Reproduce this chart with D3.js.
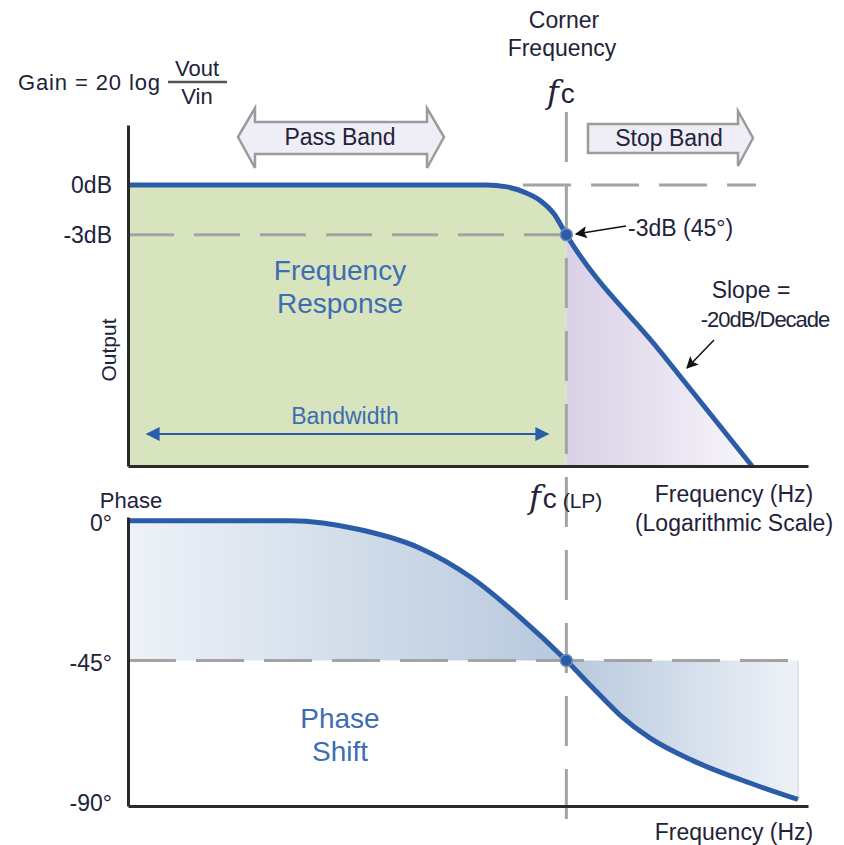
<!DOCTYPE html>
<html>
<head>
<meta charset="utf-8">
<script src="https://cdn.jsdelivr.net/npm/d3@7"></script>
<style>
  body { margin: 0; background: #fff; }
  text { font-family: "Liberation Sans", Arial, sans-serif; }
</style>
</head>
<body>
<svg width="844" height="845"></svg>
<script>
// magnitude response (frequency in Hz, fc = 100)
var gainFreq = [2.3, 50, 60, 70, 80, 90, 100, 224, 494];
var gainDb   = [0, 0, -0.12, -0.45, -0.95, -1.75, -3, -10.0, -16.9];

// phase response
var phaseFreq = [2.3, 9.3, 17, 28, 44, 67, 100, 126, 159, 205, 297, 457, 734];
var phaseDeg  = [0, 0, -2.9, -8.6, -18.2, -31.0, -45, -53.9, -62.6, -69.9, -77.2, -83.6, -89.7];

var cornerFreq = 100;
var gainTicks = [0, -3];
var gainTickLabels = ['0dB', '-3dB'];
var phaseTicks = [0, -45, -90];
var phaseTickLabels = ['0\u00B0', '-45\u00B0', '-90\u00B0'];

var svg = d3.select('svg');
var ink = '#22223a';
var blue = '#2b5ca8';
var textBlue = '#3d6db3';
var dashGray = '#a3a3a3';

// scales
var xScale = d3.scaleLog().domain([2.3, 800]).range([128, 808]);
var gainY = d3.scaleLinear().domain([-16.9, 3.6]).range([466, 125]);
var phaseY = d3.scaleLinear().domain([-91.8, 1.2]).range([806, 517]);

var gainData = gainFreq.map(function(f, i) { return { f: f, v: gainDb[i] }; });
var phaseData = phaseFreq.map(function(f, i) { return { f: f, v: phaseDeg[i] }; });

var xc = xScale(cornerFreq);

var defs = svg.append('defs');

var purple = defs.append('linearGradient').attr('id', 'stopFill')
    .attr('gradientUnits', 'userSpaceOnUse')
    .attr('x1', xc).attr('x2', xScale(494)).attr('y1', 0).attr('y2', 0);
purple.append('stop').attr('offset', 0).attr('stop-color', '#d9d0e6');
purple.append('stop').attr('offset', 1).attr('stop-color', '#f7f5fa');

var phaseGrad = defs.append('linearGradient').attr('id', 'phaseFill')
    .attr('gradientUnits', 'userSpaceOnUse')
    .attr('x1', 128).attr('x2', xScale(734)).attr('y1', 0).attr('y2', 0);
phaseGrad.append('stop').attr('offset', 0).attr('stop-color', '#eef2f8');
phaseGrad.append('stop').attr('offset', (xc - 128) / (xScale(734) - 128)).attr('stop-color', '#b7c8dd');
phaseGrad.append('stop').attr('offset', 1).attr('stop-color', '#eef2f8');

defs.append('clipPath').attr('id', 'passClip')
    .append('rect').attr('x', 128).attr('y', 100).attr('width', xc - 128).attr('height', 400);
defs.append('clipPath').attr('id', 'stopClip')
    .append('rect').attr('x', xc).attr('y', 100).attr('width', 300).attr('height', 400);

defs.append('marker').attr('id', 'blackHead')
    .attr('viewBox', '0 0 10 10').attr('refX', 9).attr('refY', 5)
    .attr('markerWidth', 10).attr('markerHeight', 8).attr('orient', 'auto')
    .append('path').attr('d', 'M0,0L10,5L0,10L2,5Z').attr('fill', '#111');
defs.append('marker').attr('id', 'blueHead')
    .attr('viewBox', '0 0 10 10').attr('refX', 9).attr('refY', 5)
    .attr('markerWidth', 11).attr('markerHeight', 7).attr('orient', 'auto-start-reverse')
    .append('path').attr('d', 'M0,0L10,5L0,10Z').attr('fill', blue);

// ---------- top panel: gain ----------
var gainArea = d3.area()
    .x(function(d) { return xScale(d.f); })
    .y0(gainY(-16.9))
    .y1(function(d) { return gainY(d.v); })
    .curve(d3.curveMonotoneX);

svg.append('path').datum(gainData)
    .attr('d', gainArea).attr('fill', '#d7e4bd')
    .attr('clip-path', 'url(#passClip)');
svg.append('path').datum(gainData)
    .attr('d', gainArea).attr('fill', 'url(#stopFill)')
    .attr('clip-path', 'url(#stopClip)');

// dashed guides
svg.append('line')
    .attr('x1', 128).attr('x2', xc).attr('y1', gainY(-3)).attr('y2', gainY(-3))
    .attr('stroke', dashGray).attr('stroke-width', 3).attr('stroke-dasharray', '46,20');
svg.append('line')
    .attr('x1', 523).attr('x2', 756).attr('y1', gainY(0)).attr('y2', gainY(0))
    .attr('stroke', dashGray).attr('stroke-width', 3).attr('stroke-dasharray', '48,20');

// ---------- bottom panel: phase ----------
var phaseArea = d3.area()
    .x(function(d) { return xScale(d.f); })
    .y0(phaseY(-45))
    .y1(function(d) { return phaseY(d.v); })
    .curve(d3.curveMonotoneX);

svg.append('path').datum(phaseData)
    .attr('d', phaseArea).attr('fill', 'url(#phaseFill)');
svg.append('line')
    .attr('x1', xScale(734)).attr('x2', xScale(734))
    .attr('y1', phaseY(-45)).attr('y2', phaseY(-89.7))
    .attr('stroke', '#c9d2de').attr('stroke-width', 1);
svg.append('line')
    .attr('x1', 128).attr('x2', xScale(734)).attr('y1', phaseY(-45)).attr('y2', phaseY(-45))
    .attr('stroke', dashGray).attr('stroke-width', 3).attr('stroke-dasharray', '48,20');

// vertical corner frequency line
svg.append('line')
    .attr('x1', xc).attr('x2', xc).attr('y1', 112).attr('y2', 834)
    .attr('stroke', dashGray).attr('stroke-width', 3).attr('stroke-dasharray', '50,23');

// curves
var line = d3.line()
    .x(function(d) { return xScale(d.f); })
    .curve(d3.curveMonotoneX);

svg.append('path').datum(gainData)
    .attr('d', line.y(function(d) { return gainY(d.v); }))
    .attr('fill', 'none').attr('stroke', blue).attr('stroke-width', 5);
svg.append('path').datum(phaseData)
    .attr('d', line.y(function(d) { return phaseY(d.v); }))
    .attr('fill', 'none').attr('stroke', blue).attr('stroke-width', 5);

// axes
function styleAxis(g) {
    g.select('.domain').attr('stroke', '#2a2a2a').attr('stroke-width', 3);
    g.selectAll('text').attr('fill', ink)
        .style('font-family', '"Liberation Sans", Arial, sans-serif')
        .style('font-size', '23px');
}

svg.append('g')
    .attr('transform', 'translate(128,0)')
    .call(d3.axisLeft(gainY).tickValues(gainTicks)
        .tickFormat(function(d, i) { return gainTickLabels[i]; })
        .tickSize(0).tickPadding(16))
    .call(styleAxis);
svg.append('g')
    .attr('transform', 'translate(0,' + gainY(-16.9) + ')')
    .call(d3.axisBottom(xScale).tickValues([]).tickSizeOuter(0))
    .call(styleAxis);

svg.append('g')
    .attr('transform', 'translate(128,0)')
    .call(d3.axisLeft(phaseY).tickValues(phaseTicks)
        .tickFormat(function(d, i) { return phaseTickLabels[i]; })
        .tickSize(0).tickPadding(16))
    .call(styleAxis)
    .selectAll('.tick text').attr('dy', '0.42em');
svg.append('g')
    .attr('transform', 'translate(0,' + phaseY(-91.8) + ')')
    .call(d3.axisBottom(xScale).tickValues([]).tickSizeOuter(0))
    .call(styleAxis);

// corner points
svg.append('circle').attr('cx', xc).attr('cy', gainY(-3)).attr('r', 6)
    .attr('fill', blue).attr('stroke', '#6f8fbf').attr('stroke-width', 1.5);
svg.append('circle').attr('cx', xc).attr('cy', phaseY(-45)).attr('r', 6)
    .attr('fill', blue).attr('stroke', '#6f8fbf').attr('stroke-width', 1.5);

// ---------- labels ----------
function label(x, y, str, opts) {
    opts = opts || {};
    return svg.append('text')
        .attr('x', x).attr('y', y)
        .attr('text-anchor', opts.anchor || 'middle')
        .attr('fill', opts.color || ink)
        .style('font-size', (opts.size || 23) + 'px')
        .text(str);
}

// gain formula
label(18, 90, 'Gain = 20 log', { anchor: 'start', size: 22 }).attr('textLength', 142);
label(197, 76, 'Vout', { size: 22 });
label(197, 104, 'Vin', { size: 22 });
svg.append('line').attr('x1', 168).attr('x2', 227).attr('y1', 82).attr('y2', 82)
    .attr('stroke', '#555').attr('stroke-width', 2.5);

// corner frequency
label(564, 28, 'Corner');
label(562, 56, 'Frequency');
var fcTop = svg.append('text').attr('x', 547).attr('y', 103).attr('fill', ink);
fcTop.append('tspan').text('f')
    .style('font-family', '"DejaVu Serif", serif').style('font-style', 'italic').style('font-size', '32px');
fcTop.append('tspan').text('c').attr('dx', 2).style('font-size', '28px');

var fcLow = svg.append('text').attr('x', 529).attr('y', 508).attr('fill', ink);
fcLow.append('tspan').text('f')
    .style('font-family', '"DejaVu Serif", serif').style('font-style', 'italic').style('font-size', '32px');
fcLow.append('tspan').text('c').attr('dx', 2).style('font-size', '28px');
fcLow.append('tspan').text(' (LP)').style('font-size', '21px');

// band arrows
var bandPath = d3.line();
svg.append('path')
    .attr('d', bandPath([[238, 137], [255, 108], [255, 122], [427, 122], [427, 108], [444, 137],
        [427, 168], [427, 154], [255, 154], [255, 168]]) + 'Z')
    .attr('fill', '#efedf5').attr('stroke', '#9b9b9b').attr('stroke-width', 2.5);
svg.append('path')
    .attr('d', bandPath([[588, 124], [738, 124], [738, 111], [753, 138], [738, 166], [738, 153],
        [588, 153]]) + 'Z')
    .attr('fill', '#efedf5').attr('stroke', '#9b9b9b').attr('stroke-width', 2.5);
label(340, 145, 'Pass Band', { size: 23 });
label(669, 146, 'Stop Band', { size: 23 });

// axis titles
label(0, 0, 'Output', { size: 21 }).attr('transform', 'translate(116,350) rotate(-90)');
label(131, 508, 'Phase', { size: 22 });
label(734, 502, 'Frequency (Hz)');
label(734, 531, '(Logarithmic Scale)');
label(734, 840, 'Frequency (Hz)');

// annotations
label(628, 236, '-3dB (45\u00B0)', { anchor: 'start' });
svg.append('line').attr('x1', 626).attr('y1', 226).attr('x2', 576).attr('y2', 234)
    .attr('stroke', '#111').attr('stroke-width', 1.5).attr('marker-end', 'url(#blackHead)');

label(751, 298, 'Slope =');
label(765, 327, '-20dB/Decade', { size: 22 }).style('letter-spacing', '-1px');
svg.append('line').attr('x1', 714).attr('y1', 340).attr('x2', 687).attr('y2', 368)
    .attr('stroke', '#111').attr('stroke-width', 1.5).attr('marker-end', 'url(#blackHead)');

label(340, 280, 'Frequency', { size: 28, color: textBlue });
label(340, 313, 'Response', { size: 28, color: textBlue });
label(345, 424, 'Bandwidth', { size: 23, color: textBlue });
svg.append('line').attr('x1', 147).attr('x2', 548).attr('y1', 434).attr('y2', 434)
    .attr('stroke', blue).attr('stroke-width', 2)
    .attr('marker-start', 'url(#blueHead)').attr('marker-end', 'url(#blueHead)');

label(340, 728, 'Phase', { size: 28, color: textBlue });
label(340, 761, 'Shift', { size: 28, color: textBlue });
</script>
</body>
</html>
